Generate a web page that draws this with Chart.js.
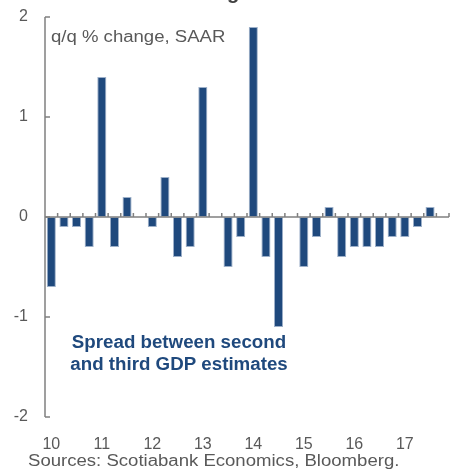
<!DOCTYPE html>
<html>
<head>
<meta charset="utf-8">
<script src="https://cdn.jsdelivr.net/npm/chart.js@4"></script>
<style>
  html, body { margin: 0; padding: 0; background: #fff; }
  canvas { display: block; }
</style>
</head>
<body>
<canvas id="myChart" width="454" height="469"></canvas>
<script>
// quarters 2010Q1 .. 2017Q4
const quarters = [
  '10Q1','10Q2','10Q3','10Q4','11Q1','11Q2','11Q3','11Q4',
  '12Q1','12Q2','12Q3','12Q4','13Q1','13Q2','13Q3','13Q4',
  '14Q1','14Q2','14Q3','14Q4','15Q1','15Q2','15Q3','15Q4',
  '16Q1','16Q2','16Q3','16Q4','17Q1','17Q2','17Q3','17Q4'
];
// spread between second and third GDP estimates, ppts
const spread = [
  -0.7, -0.1, -0.1, -0.3, 1.4, -0.3, 0.2, 0,
  -0.1, 0.4, -0.4, -0.3, 1.3, 0, -0.5, -0.2,
  1.9, -0.4, -1.1, 0, -0.5, -0.2, 0.1, -0.4,
  -0.3, -0.3, -0.3, -0.2, -0.2, -0.1, 0.1, null
];
const yearLabels = ['10', '11', '12', '13', '14', '15', '16', '17'];
const yTicks = [2, 1, 0, -1, -2];

const FONT = '"Liberation Sans", Arial, sans-serif';
const GREY = '#595959';
const AXIS = '#808080';
const BLUE = '#1f497d';

// draw text stretched a little sideways, like the source picture
function wideText(ctx, text, x, y, sx) {
  ctx.save();
  ctx.translate(x, y);
  ctx.scale(sx, 1);
  ctx.fillText(text, 0, 0);
  ctx.restore();
}

// axis lines with inside ticks + text on the chart
const framePlugin = {
  id: 'frame',
  afterDatasetsDraw(chart) {
    const ctx = chart.ctx;
    const area = chart.chartArea;
    const x = chart.scales.x;
    const y = chart.scales.y;
    const y0 = y.getPixelForValue(0);
    ctx.save();
    ctx.strokeStyle = AXIS;
    ctx.lineWidth = 1.5;

    // y axis
    ctx.beginPath();
    ctx.moveTo(area.left, area.top);
    ctx.lineTo(area.left, area.bottom);
    yTicks.forEach(function(v) {
      const py = y.getPixelForValue(v);
      ctx.moveTo(area.left, py);
      ctx.lineTo(area.left + 5, py);
    });
    ctx.stroke();

    // zero line with category boundary ticks
    ctx.beginPath();
    ctx.moveTo(area.left, y0);
    ctx.lineTo(area.right, y0);
    const half = (x.getPixelForValue(1) - x.getPixelForValue(0)) / 2;
    for (let i = 0; i < quarters.length; i++) {
      const px = x.getPixelForValue(i) + half;
      ctx.moveTo(px, y0);
      ctx.lineTo(px, y0 - 4);
    }
    ctx.stroke();

    // texts
    ctx.textBaseline = 'alphabetic';
    ctx.textAlign = 'left';
    ctx.fillStyle = GREY;
    ctx.font = '16px ' + FONT;
    wideText(ctx, 'q/q % change, SAAR', area.left + 6, 42, 1.16);
    wideText(ctx, 'Sources: Scotiabank Economics, Bloomberg.', 28, 466, 1.16);

    ctx.fillStyle = BLUE;
    ctx.font = 'bold 18px ' + FONT;
    ctx.textAlign = 'center';
    wideText(ctx, 'Spread between second', 179, 348, 1.04);
    wideText(ctx, 'and third GDP estimates', 179, 370, 1.04);

    // cut-off title descender
    ctx.fillStyle = '#404040';
    ctx.font = 'bold 20px ' + FONT;
    ctx.fillText('g', 233, -1);
    ctx.restore();
  }
};

new Chart(document.getElementById('myChart').getContext('2d'), {
  type: 'bar',
  data: {
    labels: quarters,
    datasets: [{
      data: spread,
      backgroundColor: BLUE,
      borderColor: '#9db0c9',
      borderWidth: function(c) { return c.raw ? 1 : 0; },
      borderSkipped: false,
      categoryPercentage: 1,
      barPercentage: 0.72
    }]
  },
  options: {
    responsive: false,
    animation: false,
    layout: { padding: { top: 17, right: 5, bottom: 0, left: 0 } },
    plugins: {
      legend: { display: false },
      tooltip: { enabled: false }
    },
    scales: {
      x: {
        grid: { display: false },
        border: { display: false },
        afterFit: function(s) {
          s.height = 52;
          s.paddingLeft = 0;
          s.paddingRight = 0;
        },
        ticks: {
          autoSkip: false,
          maxRotation: 0,
          padding: 10,
          color: GREY,
          font: { size: 16, family: FONT },
          callback: function(v, i) {
            return i % 4 === 0 ? yearLabels[i / 4] : '';
          }
        }
      },
      y: {
        min: -2,
        max: 2,
        grid: { display: false },
        border: { display: false },
        afterFit: function(s) {
          s.width = 45;
          s.paddingTop = 0;
          s.paddingBottom = 0;
        },
        ticks: {
          stepSize: 1,
          padding: 9,
          color: GREY,
          font: { size: 16, family: FONT }
        }
      }
    }
  },
  plugins: [framePlugin]
});
</script>
</body>
</html>
